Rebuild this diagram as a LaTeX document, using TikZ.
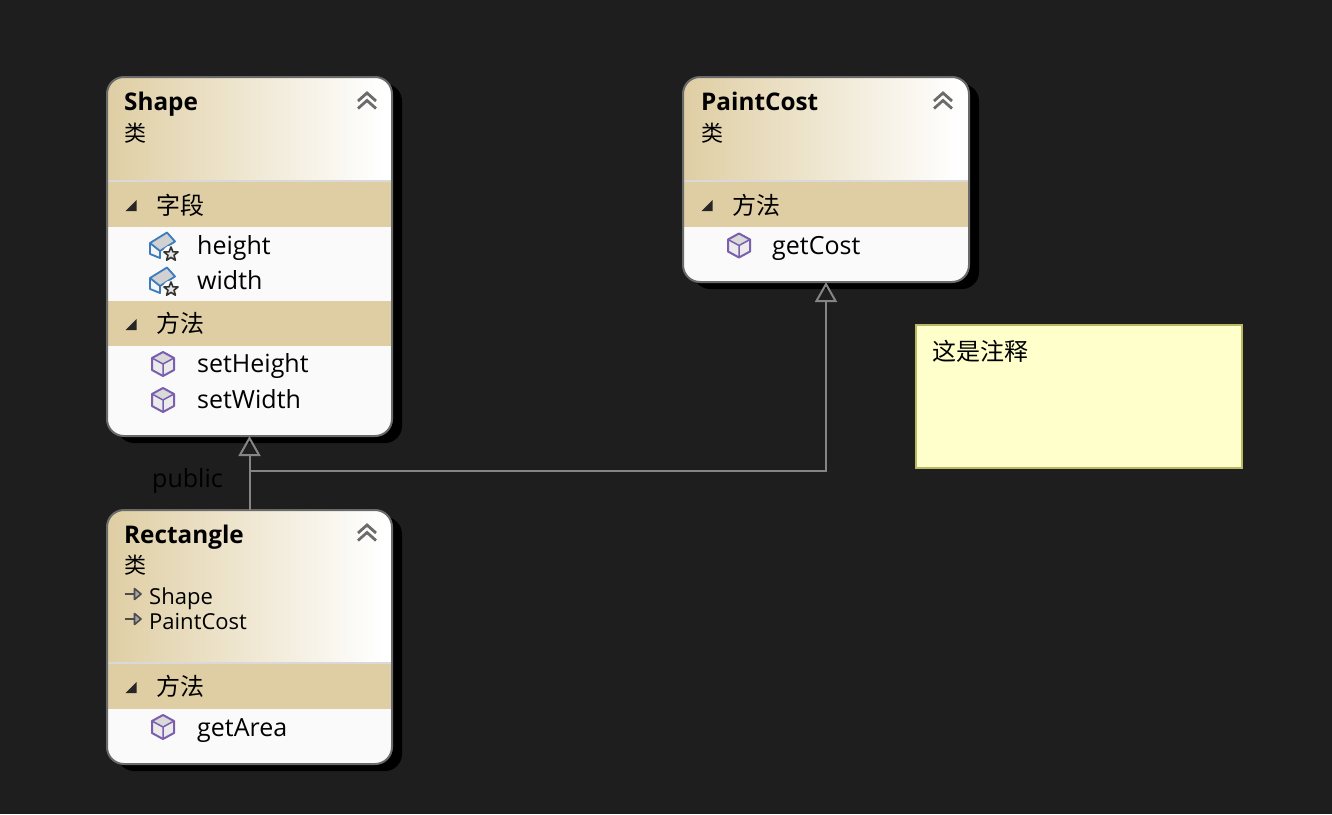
\documentclass[tikz,border=0pt]{standalone}
\usepackage{fontspec}
\setmainfont{Open Sans}
\newfontfamily\cjk{Noto Sans CJK SC}
\usetikzlibrary{arrows.meta}
\definecolor{bgdark}{HTML}{1E1E1E}
\definecolor{band}{HTML}{DFCEA3}
\definecolor{bodyc}{HTML}{FAFAFA}
\definecolor{edge}{HTML}{6A6A6A}
\definecolor{conn}{HTML}{858585}
\definecolor{cube}{HTML}{7A5FAE}
\definecolor{field}{HTML}{3B7BBE}
\definecolor{notefill}{HTML}{FFFFCC}
\definecolor{noteedge}{HTML}{B9B964}
\tikzset{
  x=1pt,y=-1pt,
  classframe/.style={draw=edge,line width=2pt,rounded corners=17pt,minimum width=285pt,inner sep=0pt,outer sep=0pt},
  inherit/.style={draw=conn,line width=2pt,-{Triangle[open,length=20pt,width=22pt,line width=2pt]}},
  title/.style={font=\fontsize{24.3}{24}\selectfont\bfseries,anchor=base west,inner sep=0pt,text=black},
  item/.style={font=\fontsize{25}{25}\selectfont,anchor=base west,inner sep=0pt,text=black},
  small/.style={font=\fontsize{22}{22}\selectfont,anchor=base west,inner sep=0pt,text=black},
  cjkhead/.style={font=\cjk\fontsize{24}{24}\selectfont,anchor=base west,inner sep=0pt,text=black},
  cjksmall/.style={font=\cjk\fontsize{22}{22}\selectfont,anchor=base west,inner sep=0pt,text=black},
}
% x1 y1 x2 y2 yHeaderEnd : shadow and gradient header
\newcommand{\boxbase}[5]{%
  \fill[black,rounded corners=17pt] (#1+10,#2+7) rectangle (#3+10,#4+7);
  \fill[bodyc,rounded corners=17pt] (#1,#2) rectangle (#3,#4);
  \begin{scope}
    \clip[rounded corners=17pt] (#1,#2) rectangle (#3,#4);
    \fill[white] (#1,#2) rectangle (#3,#5);
    \shade[left color=band,right color=white] (#1,#2) rectangle (#3-10,#5);
    \fill[black!15] (#1,#5) rectangle (#3,#5+2);
  \end{scope}}
\newcommand{\sectionband}[3]{%
  \fill[band] (#1+1,#2) rectangle (#1+285,#3);
  \fill[black!85] (#1+18.5,#2+29) -- (#1+29.5,#2+29) -- (#1+29.5,#2+18) -- cycle;}
\newcommand{\chev}[2]{%
  \draw[black!58,line width=2.8pt,line join=miter] (#1-9,#2+1) -- (#1,#2-7) -- (#1+9,#2+1);
  \draw[black!58,line width=2.8pt,line join=miter] (#1-9,#2+8.5) -- (#1,#2+0.5) -- (#1+9,#2+8.5);}
\newcommand{\cubeicon}[2]{%
  \fill[black!8] (#1,#2-12) -- (#1+11,#2-6) -- (#1+11,#2+6) -- (#1,#2+12) -- (#1-11,#2+6) -- (#1-11,#2-6) -- cycle;
  \fill[black!15] (#1,#2-12) -- (#1+11,#2-6) -- (#1,#2) -- (#1-11,#2-6) -- cycle;
  \draw[cube,line width=2pt,line join=round] (#1,#2-12) -- (#1+11,#2-6) -- (#1+11,#2+6) -- (#1,#2+12) -- (#1-11,#2+6) -- (#1-11,#2-6) -- cycle;
  \draw[cube,line width=1.5pt,line join=round] (#1-11,#2-6) -- (#1,#2) -- (#1+11,#2-6) (#1,#2) -- (#1,#2+12);}
\newcommand{\fieldicon}[2]{%
  \fill[black!4] (#1-12,#2-2) -- (#1+5,#2-12.5) -- (#1+13,#2-3.5) -- (#1+13,#2+3) -- (#1-3,#2+13) -- (#1-12,#2+9) -- cycle;
  \fill[black!18] (#1-12,#2-2) -- (#1+5,#2-12.5) -- (#1+13,#2-3.5) -- (#1-2,#2+6) -- cycle;
  \draw[field,line width=1.8pt,line join=round] (#1-2,#2+6) -- (#1-12,#2-2) -- (#1+5,#2-12.5) -- (#1+13,#2-3.5) -- (#1-2,#2+6) -- (#1-2,#2+13) -- (#1-12,#2+9) -- (#1-12,#2-2);
  \fill[bodyc] (#1+9,#2+9) circle (8.5);
  \draw[black!80,fill=black!10,line width=1.6pt,line join=round]
    (#1+9,#2+2) -- (#1+10.9,#2+6.8) -- (#1+16,#2+7) -- (#1+12,#2+10.2) -- (#1+13.4,#2+15.2)
    -- (#1+9,#2+12.4) -- (#1+4.6,#2+15.2) -- (#1+6,#2+10.2) -- (#1+2,#2+7) -- (#1+7.1,#2+6.8) -- cycle;}
\newcommand{\baseicon}[2]{%
  \draw[black!70,line width=2.6pt] (#1,#2) -- (#1+11,#2);
  \draw[black!70,fill=black!35,line width=1.6pt,line join=round] (#1+10,#2-5.5) -- (#1+16.5,#2) -- (#1+10,#2+5.5) -- cycle;}
\begin{document}
\begin{tikzpicture}
\useasboundingbox (0,0) rectangle (1332,814);
\fill[bgdark] (0,0) rectangle (1332,814);

% Shape
\boxbase{107}{77}{392}{436}{180}
\sectionband{107}{182}{227}
\sectionband{107}{301}{346}
\node[classframe,minimum height=359pt] (shape) at (249.5,256.5) {};
\node[title] (shapeT) at (124,110) {Shape};
\node[cjksmall] (shapeK) at (124,141) {类};
\chev{367}{100}
\node[cjkhead] (shapeF) at (156,214) {字段};
\fieldicon{162}{245}
\node[item] (shapeH) at (197,254) {height};
\fieldicon{162}{280}
\node[item] (shapeW) at (197,289) {width};
\node[cjkhead] (shapeM) at (156,332) {方法};
\cubeicon{163}{364}
\node[item] (shapeSH) at (197,372) {setHeight};
\cubeicon{163}{400}
\node[item] (shapeSW) at (197,408) {setWidth};

% PaintCost
\boxbase{683}{77}{969}{282}{180}
\sectionband{683}{182}{227}
\node[classframe,minimum width=286pt,minimum height=205pt] (paint) at (826,179.5) {};
\node[title] (paintT) at (701,110) {PaintCost};
\node[cjksmall] (paintK) at (701,141) {类};
\chev{943}{100}
\node[cjkhead] (paintM) at (732,214) {方法};
\cubeicon{739}{245.5}
\node[item] (paintC) at (772,254) {getCost};

% Rectangle
\boxbase{107}{510}{392}{764}{662}
\sectionband{107}{664}{709}
\node[classframe,minimum height=254pt] (rect) at (249.5,637) {};
\node[title] (rectT) at (124,543) {Rectangle};
\node[cjksmall] (rectK) at (124,573) {类};
\chev{367}{532}
\baseicon{124.5}{594}
\node[small] (rectS) at (149,604) {Shape};
\baseicon{124.5}{619}
\node[small] (rectP) at (149,629) {PaintCost};
\node[cjkhead] (rectM) at (156,695) {方法};
\cubeicon{163}{727}
\node[item] (rectA) at (197,736) {getArea};

% Note
\node[draw=noteedge,fill=notefill,line width=1.5pt,minimum width=326pt,minimum height=143pt,inner sep=0pt] (note) at (1079,396.5) {};
\node[cjkhead] (noteT) at (932,360) {这是注释};

% Connectors
\coordinate (junction) at (250,471);
\draw[inherit] (rect.north) -- (shape.south);
\draw[inherit] (junction) -| (paint.south);
\node[item] (public) at (152,487) {public};
\end{tikzpicture}
\end{document}
